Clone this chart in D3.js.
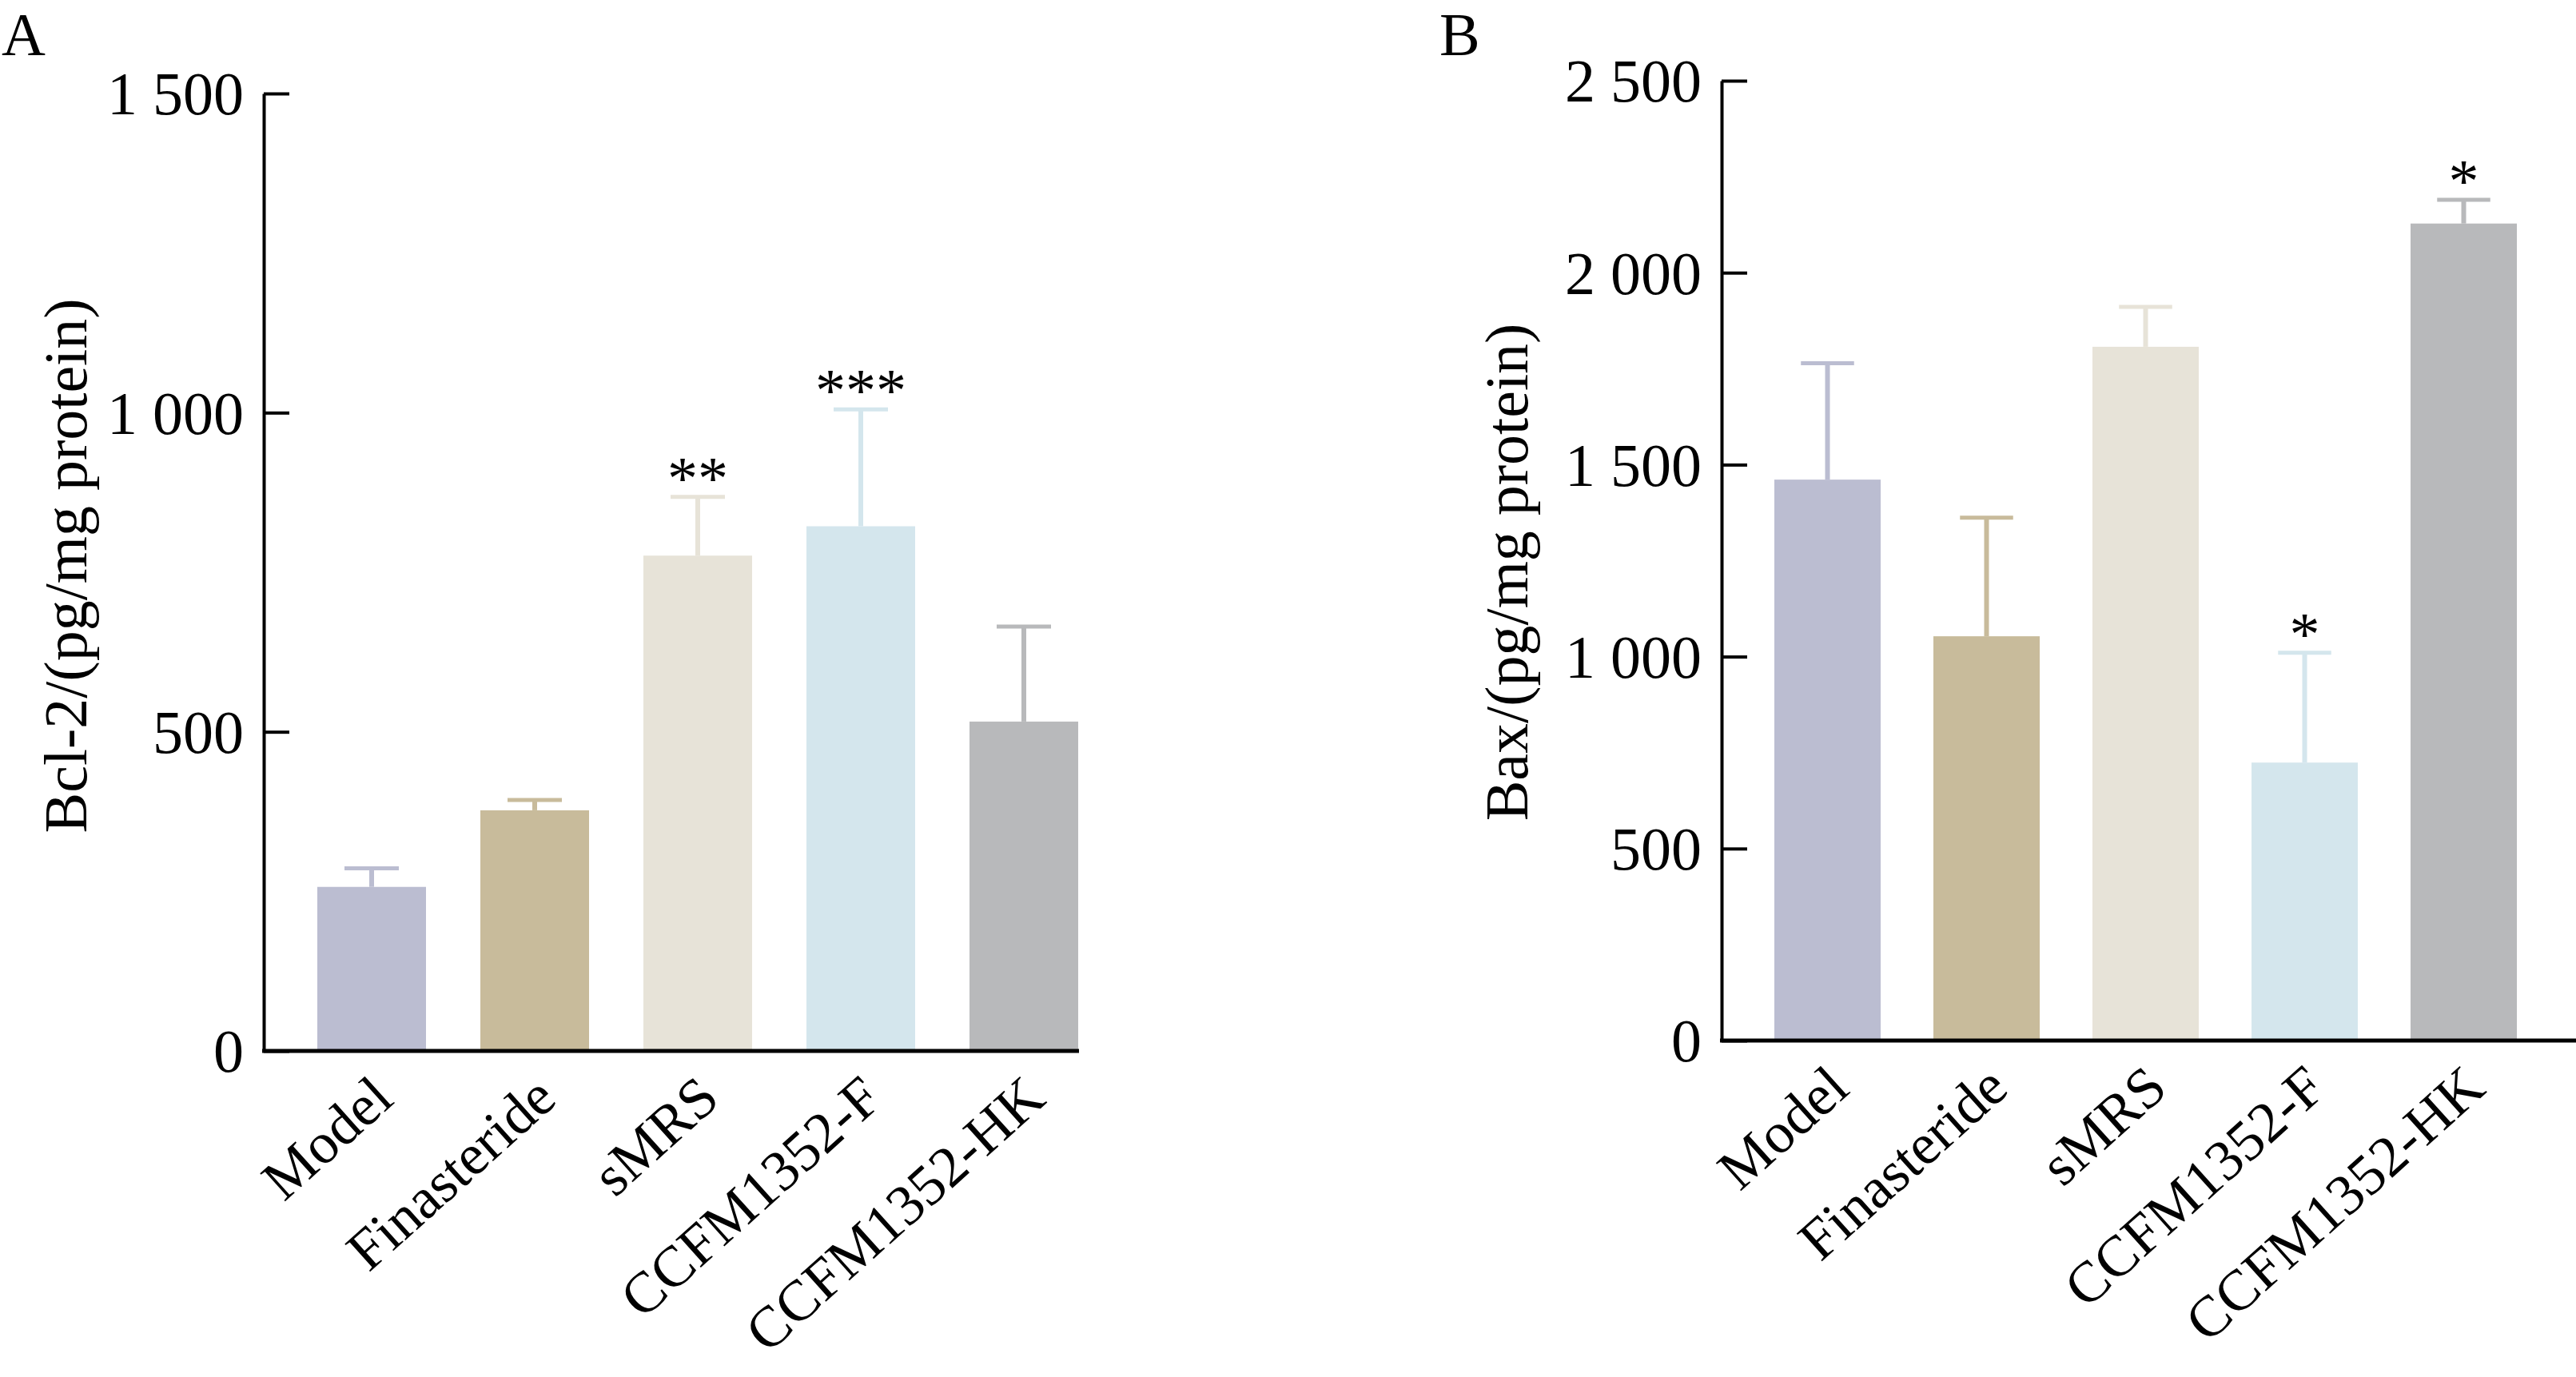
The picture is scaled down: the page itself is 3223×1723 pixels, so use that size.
<!DOCTYPE html>
<html>
<head>
<meta charset="utf-8">
<script src="https://cdn.jsdelivr.net/npm/d3@7"></script>
<style>
  body { margin: 0; background: #fff; }
  text { font-family: "Liberation Serif", "Times New Roman", serif; fill: #000; }
</style>
</head>
<body>
<div id="chart"></div>
<script>
// groups and bar colours (shared by both panels)
var categories = ["Model", "Finasteride", "sMRS", "CCFM1352-F", "CCFM1352-HK"];
var barColors = ["#bbbdd1", "#c8bb9b", "#e7e3d8", "#d4e6ed", "#b8b9bb"];

// panel A: Bcl-2
var bcl2Mean = [257, 377, 776, 822, 516];
var bcl2Err = [29, 16, 92, 183, 149];
var bcl2Stars = ["", "", "**", "***", ""];
var bcl2Ticks = [0, 500, 1000, 1500];

// panel B: Bax
var baxMean = [1461, 1053, 1807, 724, 2128];
var baxErr = [303, 309, 104, 286, 62];
var baxStars = ["", "", "", "*", "*"];
var baxTicks = [0, 500, 1000, 1500, 2000, 2500];

var width = 3223, height = 1723;
var fontSize = 76;
var catFontSize = 72;

var svg = d3.select("#chart")
    .append("svg")
    .attr("width", width)
    .attr("height", height)

var fmt = function(d) { return d3.format(",")(d).replace(",", " "); }

function panel(opt) {
  var g = svg.append("g")

  var y = d3.scaleLinear()
      .domain([0, opt.ticks[opt.ticks.length - 1]])
      .range([opt.y0, opt.yTop])

  var pi = 1 - opt.barW / opt.step;
  var r0 = opt.barStart - opt.step * pi / 2;
  var x = d3.scaleBand()
      .domain(categories)
      .range([r0, r0 + opt.step * categories.length])
      .paddingInner(pi)
      .paddingOuter(pi / 2)

  var rows = categories.map(function(c, i) {
    return {name: c, mean: opt.mean[i], err: opt.err[i], star: opt.stars[i], color: barColors[i]};
  })

  // bars
  g.selectAll(".bar")
    .data(rows)
    .enter().append("rect")
      .attr("class", "bar")
      .attr("x", d => x(d.name))
      .attr("width", x.bandwidth())
      .attr("y", d => y(d.mean))
      .attr("height", d => y(0) - y(d.mean))
      .attr("fill", d => d.color)

  // error bars (upper half only)
  var capW = x.bandwidth() / 2;
  var eb = g.selectAll(".err")
    .data(rows)
    .enter().append("g")
      .attr("class", "err")
  eb.append("line")
      .attr("x1", d => x(d.name) + x.bandwidth() / 2)
      .attr("x2", d => x(d.name) + x.bandwidth() / 2)
      .attr("y1", d => y(d.mean))
      .attr("y2", d => y(d.mean + d.err))
      .attr("stroke", d => d.color)
      .attr("stroke-width", 6)
  eb.append("line")
      .attr("x1", d => x(d.name) + x.bandwidth() / 2 - capW / 2)
      .attr("x2", d => x(d.name) + x.bandwidth() / 2 + capW / 2)
      .attr("y1", d => y(d.mean + d.err))
      .attr("y2", d => y(d.mean + d.err))
      .attr("stroke", d => d.color)
      .attr("stroke-width", 5)

  // significance stars
  g.selectAll(".star")
    .data(rows.filter(d => d.star))
    .enter().append("text")
      .attr("class", "star")
      .attr("x", d => x(d.name) + x.bandwidth() / 2)
      .attr("y", d => y(d.mean + d.err) + 2)
      .attr("text-anchor", "middle")
      .attr("font-size", fontSize)
      .text(d => d.star)

  // y axis, ticks pointing inward
  var yAxis = g.append("g")
      .attr("transform", "translate(" + opt.x0 + ",0)")
      .call(d3.axisLeft(y).tickValues(opt.ticks).tickFormat(fmt)
            .tickSize(-32).tickSizeOuter(0).tickPadding(25))
  yAxis.selectAll("path, line").attr("stroke", "#000").attr("stroke-width", 4)
  yAxis.selectAll("text")
      .attr("font-size", fontSize)
      .attr("font-family", "Liberation Serif")
      .attr("dy", "0.34em")

  // x axis line
  g.append("line")
      .attr("x1", opt.x0 - 2)
      .attr("x2", opt.xEnd)
      .attr("y1", y(0))
      .attr("y2", y(0))
      .attr("stroke", "#000")
      .attr("stroke-width", 5)

  // category labels, rotated
  var xAxis = g.append("g")
      .attr("transform", "translate(0," + y(0) + ")")
      .call(d3.axisBottom(x).tickSize(0))
  xAxis.select(".domain").remove()
  xAxis.selectAll("text")
      .attr("font-size", catFontSize)
      .attr("font-family", "Liberation Serif")
      .attr("text-anchor", "end")
      .attr("x", 0).attr("y", 0).attr("dy", 0)
      .attr("transform", "translate(30,64) rotate(-42)")

  // axis title
  g.append("text")
      .attr("transform", "translate(" + opt.titleX + "," + opt.titleY + ") rotate(-90)")
      .attr("text-anchor", "middle")
      .attr("font-size", fontSize)
      .text(opt.title)

  // panel letter
  g.append("text")
      .attr("x", opt.labelX)
      .attr("y", 69)
      .attr("font-size", fontSize)
      .text(opt.label)
}

panel({
  label: "A", labelX: 2, title: "Bcl-2/(pg/mg protein)", titleX: 108, titleY: 708,
  mean: bcl2Mean, err: bcl2Err, stars: bcl2Stars, ticks: bcl2Ticks,
  x0: 330, xEnd: 1350, y0: 1315, yTop: 117,
  barStart: 397, step: 204, barW: 136
})

panel({
  label: "B", labelX: 1801, title: "Bax/(pg/mg protein)", titleX: 1911, titleY: 716,
  mean: baxMean, err: baxErr, stars: baxStars, ticks: baxTicks,
  x0: 2154, xEnd: 3223, y0: 1302, yTop: 101,
  barStart: 2220, step: 199, barW: 133
})
</script>
</body>
</html>
